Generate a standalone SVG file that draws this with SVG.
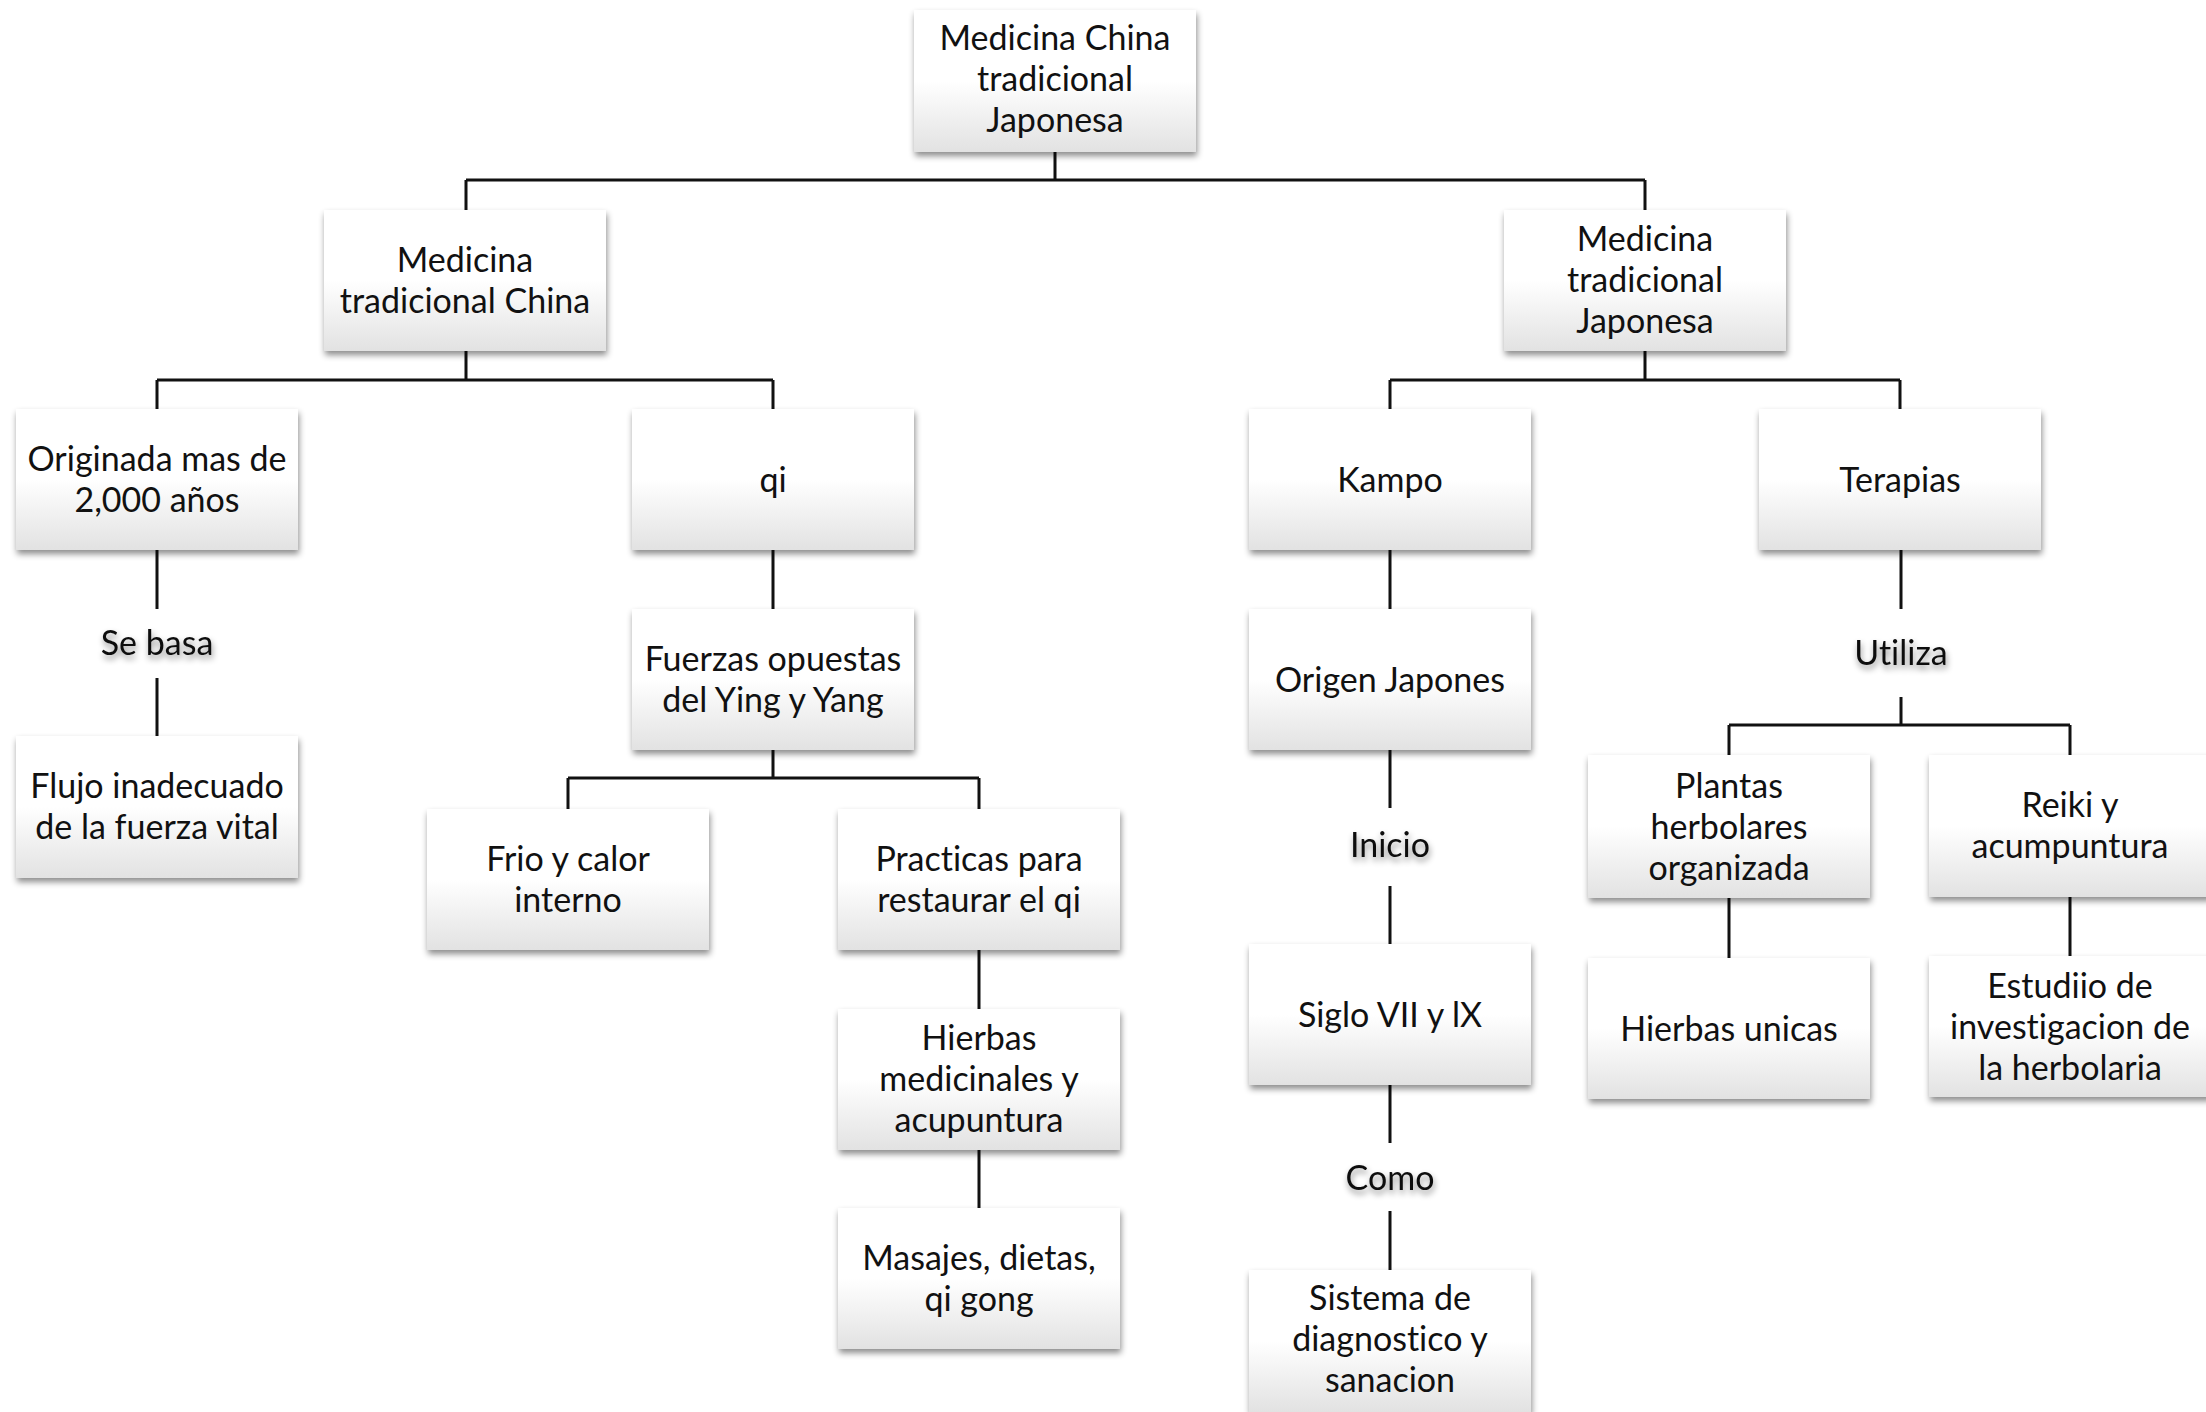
<svg xmlns="http://www.w3.org/2000/svg" width="2206" height="1412" viewBox="0 0 2206 1412">
<defs>
<linearGradient id="g" x1="0" y1="0" x2="0" y2="1">
<stop offset="0" stop-color="#ffffff"/>
<stop offset="0.5" stop-color="#ffffff"/>
<stop offset="1" stop-color="#e2e2e2"/>
</linearGradient>
<filter id="sh" x="-10%" y="-10%" width="120%" height="125%">
<feDropShadow dx="1" dy="4" stdDeviation="3" flood-color="#000" flood-opacity="0.45"/>
</filter>
<filter id="tsh" x="-20%" y="-40%" width="140%" height="190%">
<feDropShadow dx="1" dy="4" stdDeviation="3" flood-color="#000" flood-opacity="0.45"/>
</filter>
</defs>
<style>
.box{fill:url(#g);filter:url(#sh);}
text{font-family:Lato,"Open Sans","Liberation Sans",sans-serif;font-size:34px;fill:#111;text-anchor:middle;font-variant-ligatures:none;font-feature-settings:"liga" 0,"clig" 0;}
.lbl{filter:url(#tsh);}
.c line, .c path{stroke:#111;stroke-width:3;fill:none;}
</style>
<rect width="2206" height="1412" fill="#fff"/>
<g class="c" id="connectors">
<path d="M1055 152V180M466 180H1645M466 180V210M1645 180V210"/>
<path d="M466 351V380M157 380H773M157 380V409M773 380V409"/>
<path d="M1645 351V380M1390 380H1900M1390 380V409M1900 380V409"/>
<path d="M157 550V609M157 678V736"/>
<path d="M773 550V609M773 750V778M568 778H979M568 778V809M979 778V809"/>
<path d="M979 950V1009M979 1150V1208"/>
<path d="M1390 550V609M1390 750V808M1390 886V944M1390 1085V1143M1390 1211V1270"/>
<path d="M1901 550V609M1901 697V725M1729 725H2070M1729 725V755M2070 725V755"/>
<path d="M1729 898V958M2070 897V956"/>
</g>
<g id="n-root"><rect class="box" x="914" y="10" width="282" height="142"/><text x="1055" y="50">Medicina China</text><text x="1055" y="91">tradicional</text><text x="1055" y="132">Japonesa</text></g>
<g id="n-mtc"><rect class="box" x="324" y="210" width="282" height="141"/><text x="465" y="272">Medicina</text><text x="465" y="313">tradicional China</text></g>
<g id="n-mtj"><rect class="box" x="1504" y="210" width="282" height="141"/><text x="1645" y="251">Medicina</text><text x="1645" y="292">tradicional</text><text x="1645" y="333">Japonesa</text></g>
<g id="n-originada"><rect class="box" x="16" y="409" width="282" height="141"/><text x="157" y="471">Originada mas de</text><text x="157" y="512">2,000 años</text></g>
<g id="n-qi"><rect class="box" x="632" y="409" width="282" height="141"/><text x="773" y="492">qi</text></g>
<g id="n-kampo"><rect class="box" x="1249" y="409" width="282" height="141"/><text x="1390" y="492">Kampo</text></g>
<g id="n-terapias"><rect class="box" x="1759" y="409" width="282" height="141"/><text x="1900" y="492">Terapias</text></g>
<g id="l-sebasa"><text class="lbl" x="157" y="655">Se basa</text></g>
<g id="n-flujo"><rect class="box" x="16" y="736" width="282" height="142"/><text x="157" y="798">Flujo inadecuado</text><text x="157" y="839">de la fuerza vital</text></g>
<g id="n-fuerzas"><rect class="box" x="632" y="609" width="282" height="141"/><text x="773" y="671">Fuerzas opuestas</text><text x="773" y="712">del Ying y Yang</text></g>
<g id="n-frio"><rect class="box" x="427" y="809" width="282" height="141"/><text x="568" y="871">Frio y calor</text><text x="568" y="912">interno</text></g>
<g id="n-practicas"><rect class="box" x="838" y="809" width="282" height="141"/><text x="979" y="871">Practicas para</text><text x="979" y="912">restaurar el qi</text></g>
<g id="n-hierbas"><rect class="box" x="838" y="1009" width="282" height="141"/><text x="979" y="1050">Hierbas</text><text x="979" y="1091">medicinales y</text><text x="979" y="1132">acupuntura</text></g>
<g id="n-masajes"><rect class="box" x="838" y="1208" width="282" height="141"/><text x="979" y="1270">Masajes, dietas,</text><text x="979" y="1311">qi gong</text></g>
<g id="n-origen"><rect class="box" x="1249" y="609" width="282" height="141"/><text x="1390" y="692">Origen Japones</text></g>
<g id="l-inicio"><text class="lbl" x="1390" y="857">Inicio</text></g>
<g id="n-siglo"><rect class="box" x="1249" y="944" width="282" height="141"/><text x="1390" y="1027">Siglo VII y lX</text></g>
<g id="l-como"><text class="lbl" x="1390" y="1190">Como</text></g>
<g id="n-sistema"><rect class="box" x="1249" y="1270" width="282" height="142"/><text x="1390" y="1310">Sistema de</text><text x="1390" y="1351">diagnostico y</text><text x="1390" y="1392">sanacion</text></g>
<g id="l-utiliza"><text class="lbl" x="1901" y="665">Utiliza</text></g>
<g id="n-plantas"><rect class="box" x="1588" y="755" width="282" height="143"/><text x="1729" y="798">Plantas</text><text x="1729" y="839">herbolares</text><text x="1729" y="880">organizada</text></g>
<g id="n-reiki"><rect class="box" x="1929" y="755" width="282" height="142"/><text x="2070" y="817">Reiki y</text><text x="2070" y="858">acumpuntura</text></g>
<g id="n-hunicas"><rect class="box" x="1588" y="958" width="282" height="141"/><text x="1729" y="1041">Hierbas unicas</text></g>
<g id="n-estudio"><rect class="box" x="1929" y="956" width="282" height="141"/><text x="2070" y="998">Estudiio de</text><text x="2070" y="1039">investigacion de</text><text x="2070" y="1080">la herbolaria</text></g>
</svg>
